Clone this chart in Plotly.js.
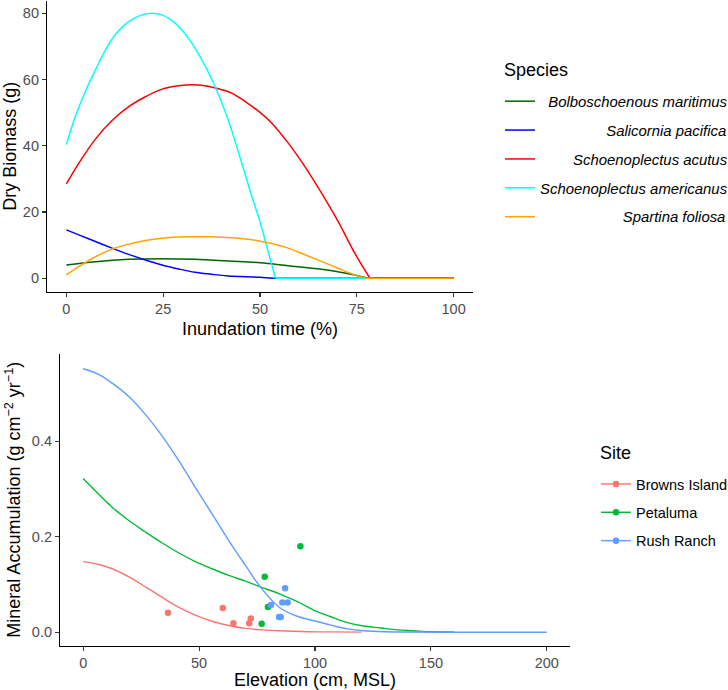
<!DOCTYPE html>
<html>
<head>
<meta charset="utf-8">
<script src="https://cdn.plot.ly/plotly-3.0.1.min.js"></script>
<style>html,body{margin:0;padding:0;background:#fff;}#chart{width:728px;height:690px;}</style>
</head>
<body>
<div id="chart"></div>
<script>
// ---------- Top panel: biomass vs inundation ----------
const speciesNames = ['Bolboschoenous maritimus','Salicornia pacifica','Schoenoplectus acutus','Schoenoplectus americanus','Spartina foliosa'];
const speciesColors = ['#006400','#0000FF','#FF0000','#00FFFF','#FFA500'];

const bolboX = [0,7.5,16.1,24.7,33.2,41.8,50,57.3,65.9,74.5,78,100];
const bolboY = [4.0,5.0,5.7,5.9,5.7,5.2,4.7,3.8,2.7,1.0,0,0];

const salicorniaX = [0,3.2,7.5,11.8,16.1,20.4,24.7,29,33.2,37.5,41.8,50,53.4,100];
const salicorniaY = [14.6,13.1,11.1,9.1,7.2,5.5,4.0,2.8,1.8,1.2,0.7,0.3,0,0];

const acutusX = [0,3.2,7.5,11.8,16.1,20.4,24.7,29,32.4,35.8,39.3,42.7,46.1,50,53,57.3,61.6,65.9,70.2,74.5,78.4,100];
const acutusY = [28.5,34.7,42,47.6,51.8,54.8,57.1,58.1,58.4,58.1,57.2,55.9,53.4,50.1,46.9,40.8,33.7,25.7,17.1,7.5,0,0];

const americanusX = [0,2.3,4.9,7.5,10.1,12.6,16.1,19.5,22.1,24.7,28.1,31.5,35,38.4,41.8,45.3,47.9,50,52,54,78];
const americanusY = [40.3,48.8,56.4,62.9,68.9,73.5,77.5,79.5,80.0,79.5,77,72.5,65.9,57.9,47.8,34.7,24.7,17.1,8.5,0,0];

const spartinaX = [0,3.2,7.5,11.8,16.1,20.4,24.7,30.7,37.5,42.7,48.7,53,57.3,61.6,65.9,70.2,74.5,77.5,100];
const spartinaY = [1.0,3.5,6.5,8.8,10.3,11.4,12.1,12.5,12.5,12.2,11.5,10.5,9.1,7.1,5.1,3.0,1.0,0,0];

// legend label padding (right-aligned text look)
const speciesPad = [2,16,8,0,20];

const xTicksTop = [0,25,50,75,100];
const yTicksTop = [0,20,40,60,80];

// ---------- Bottom panel: mineral accumulation vs elevation ----------
const siteNames = ['Browns Island','Petaluma','Rush Ranch'];
const siteColors = ['#F8766D','#00BA38','#619CFF'];

const brownsCurveX = [0,6.8,12.5,19.7,26.9,34.1,41.3,48.4,55.6,62.8,70,77.4,84.4,97.3,105,120];
const brownsCurveY = [0.148,0.142,0.133,0.116,0.095,0.073,0.052,0.036,0.023,0.014,0.008,0.005,0.003,0.001,0.0007,0.0003];

const petalumaCurveX = [0,12.5,19.7,26.9,34.1,41.3,48.4,55.6,62.8,70,76.4,84.4,92.4,99.6,106.8,114,121,128.3,135.5,142.7,150,160];
const petalumaCurveY = [0.322,0.262,0.234,0.210,0.187,0.166,0.148,0.133,0.119,0.107,0.095,0.081,0.064,0.046,0.0325,0.020,0.013,0.009,0.005,0.003,0.001,0.0005];

const rushCurveX = [0,6.8,12.5,19.7,26.9,34.1,41.3,48.4,55.6,62.8,70,76.4,84.4,92,99.6,106.8,114,121,130,140,160,200];
const rushCurveY = [0.552,0.540,0.522,0.494,0.456,0.411,0.359,0.303,0.248,0.192,0.140,0.095,0.053,0.034,0.024,0.015,0.007,0.003,0.001,0.0005,0,0];

const brownsPtsX = [36.6,60.2,64.8,72.3,71.6];
const brownsPtsY = [0.041,0.051,0.019,0.029,0.019];
const petalumaPtsX = [93.7,78.3,79.7,77.0];
const petalumaPtsY = [0.180,0.116,0.053,0.018];
const rushPtsX = [81.0,87.1,85.9,88.2,84.5,85.2];
const rushPtsY = [0.057,0.092,0.0625,0.0625,0.032,0.032];

const xTicksBot = [0,50,100,150,200];
const yTicksBot = [0,0.2,0.4];

// ---------- build traces ----------
// break the smoothed curve where it first reaches zero so the flat tail stays flat
function splitAtZero(xs, ys){
  const k = ys.indexOf(0);
  if(k < 0 || k === ys.length-1) return {x:xs, y:ys};
  return {x:[...xs.slice(0,k+1), null, ...xs.slice(k)], y:[...ys.slice(0,k+1), null, ...ys.slice(k)]};
}
const topX = [bolboX, salicorniaX, acutusX, americanusX, spartinaX];
const topY = [bolboY, salicorniaY, acutusY, americanusY, spartinaY];
const NB = '\u00A0';
const traces = [];
speciesNames.forEach((n,i)=>{
  const s = splitAtZero(topX[i], topY[i]);
  traces.push({
    type:'scatter', mode:'lines', x:s.x, y:s.y, xaxis:'x', yaxis:'y', connectgaps:false,
    name: NB.repeat(speciesPad[i]) + '<i>' + n + '</i>',
    line:{color:speciesColors[i], width:1.5, shape:'spline', smoothing:1},
    legend:'legend', legendgroup:'sp'+i, hoverinfo:'skip'
  });
});

const curvesX = [brownsCurveX, petalumaCurveX, rushCurveX];
const curvesY = [brownsCurveY, petalumaCurveY, rushCurveY];
const ptsX = [brownsPtsX, petalumaPtsX, rushPtsX];
const ptsY = [brownsPtsY, petalumaPtsY, rushPtsY];
siteNames.forEach((n,i)=>{
  traces.push({
    type:'scatter', mode:'lines', x:curvesX[i], y:curvesY[i], xaxis:'x2', yaxis:'y2',
    name:n, showlegend:false, line:{color:siteColors[i], width:1.4, shape:'spline', smoothing:1},
    legend:'legend2', legendgroup:'site'+i, hoverinfo:'skip'
  });
});
// points: separated by nulls so no connecting line is drawn, but legend shows line + dot
siteNames.forEach((n,i)=>{
  const xs=[], ys=[];
  ptsX[i].forEach((v,k)=>{ xs.push(v, null); ys.push(ptsY[i][k], null); });
  traces.push({
    type:'scatter', mode:'lines+markers', x:xs, y:ys, xaxis:'x2', yaxis:'y2',
    name:n, connectgaps:false,
    line:{color:siteColors[i], width:1.4},
    marker:{color:siteColors[i], size:6.5},
    legend:'legend2', legendgroup:'site'+i, hoverinfo:'skip'
  });
});

const axBase = {
  showline:true, linecolor:'#000', linewidth:1.1, mirror:false,
  ticks:'outside', ticklen:4, tickwidth:1.1, tickcolor:'#333333',
  tickfont:{size:14.5, color:'#4D4D4D'},
  showgrid:false, zeroline:false, automargin:false, fixedrange:true
};

const layout = {
  width:728, height:690,
  margin:{l:0, r:0, t:0, b:0, pad:0, autoexpand:false},
  paper_bgcolor:'#FFFFFF', plot_bgcolor:'#FFFFFF',
  font:{family:'"Liberation Sans", Arial, sans-serif', size:14.5, color:'#000'},
  showlegend:true,
  xaxis: Object.assign({}, axBase, {
    domain:[47/728, 473/728], range:[-5,105], tickvals:xTicksTop, ticktext:xTicksTop.map(String),
    anchor:'y', title:{text:'Inundation time (%)', font:{size:18, color:'#000'}, standoff:6}
  }),
  yaxis: Object.assign({}, axBase, {
    domain:[(690-291.5)/690, (690-1)/690], range:[-4,83.7], tickvals:yTicksTop, ticktext:yTicksTop.map(String),
    anchor:'x', title:{text:'Dry Biomass (g)', font:{size:18, color:'#000'}, standoff:6}
  }),
  xaxis2: Object.assign({}, axBase, {
    domain:[60/728, 570/728], range:[-10,210], tickvals:xTicksBot, ticktext:xTicksBot.map(String),
    anchor:'y2', title:{text:'Elevation (cm, MSL)', font:{size:18, color:'#000'}, standoff:4}
  }),
  yaxis2: Object.assign({}, axBase, {
    domain:[(690-645.5)/690, (690-354)/690], range:[-0.0278,0.583], tickvals:yTicksBot,
    ticktext:yTicksBot.map(v=>v.toFixed(1)),
    anchor:'x2', title:{text:'Mineral Accumulation (g cm<sup>\u22122</sup> yr<sup>\u22121</sup>)', font:{size:18, color:'#000'}, standoff:6}
  }),
  legend:{
    xref:'paper', yref:'paper', x:500/728, y:1-85/690, xanchor:'left', yanchor:'top',
    font:{size:14.9, color:'#000'}, bgcolor:'rgba(0,0,0,0)', borderwidth:0,
    tracegroupgap:6.5, itemclick:false, itemdoubleclick:false
  },
  legend2:{
    xref:'paper', yref:'paper', x:596/728, y:1-468/690, xanchor:'left', yanchor:'top',
    font:{size:14.5, color:'#000'}, bgcolor:'rgba(0,0,0,0)', borderwidth:0,
    tracegroupgap:6.5, itemclick:false, itemdoubleclick:false
  },
  annotations:[
    {text:'Species', xref:'paper', yref:'paper', x:502/728, y:1-70/690, xanchor:'left', yanchor:'middle',
     showarrow:false, font:{size:18, color:'#000'}},
    {text:'Site', xref:'paper', yref:'paper', x:598/728, y:1-453.3/690, xanchor:'left', yanchor:'middle',
     showarrow:false, font:{size:18, color:'#000'}}
  ]
};

Plotly.newPlot('chart', traces, layout, {displayModeBar:false, staticPlot:true});
</script>
</body>
</html>
